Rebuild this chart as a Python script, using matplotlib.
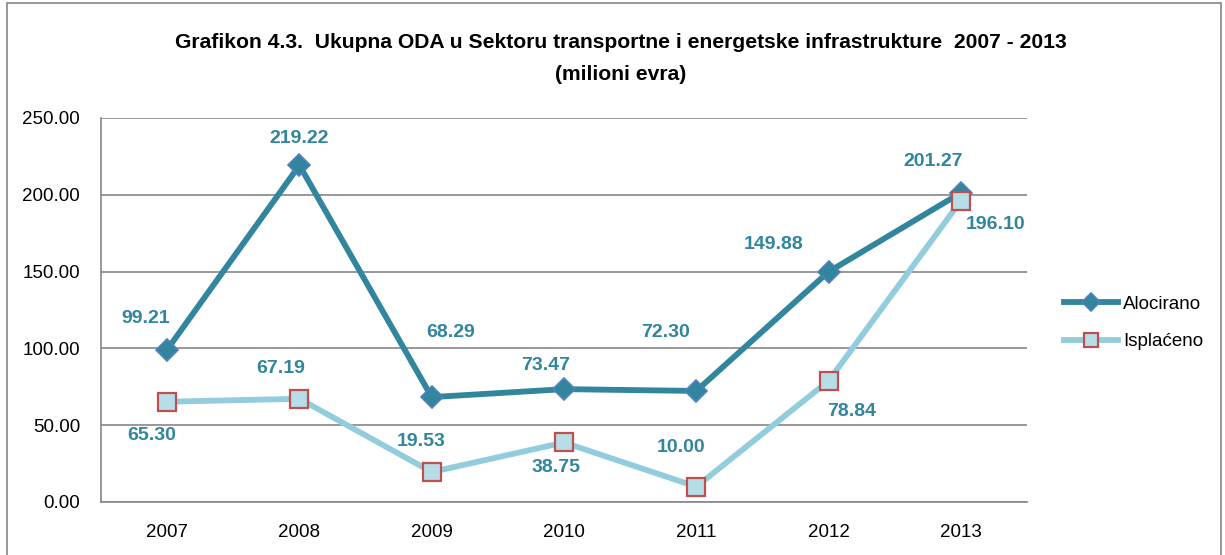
import matplotlib
matplotlib.use("Agg")
import matplotlib.pyplot as plt
from matplotlib.patches import Rectangle

# data
years = ["2007", "2008", "2009", "2010", "2011", "2012", "2013"]
alocirano = [99.21, 219.22, 68.29, 73.47, 72.30, 149.88, 201.27]
isplaceno = [65.30, 67.19, 19.53, 38.75, 10.00, 78.84, 196.10]

# label offsets in pixels (dx, dy), as placed in the original
aloc_off = [(-21, 31), (0, 27), (19, 65), (-18, 24), (-31, 58), (-55, 27), (-28, 31)]
isp_off = [(-15, -34), (-19, 30), (-11, 31), (-8, -25), (-15, 39), (23, -31), (35, -24)]

DARK = "#31859C"
LIGHT = "#93CDDD"

plt.rcParams["font.family"] = ["Liberation Sans", "DejaVu Sans"]

W, H = 1225, 555
fig = plt.figure(figsize=(W / 100, H / 100), dpi=100)
ax = fig.add_axes([101 / W, 1 - 502 / H, (1027 - 101) / W, (502 - 118) / H])

x = list(range(len(years)))
ax.plot(x, alocirano, color=DARK, lw=4.2, marker="D", ms=11.5,
        mfc=DARK, mec="#4F81BD", mew=1.2, label="Alocirano", zorder=4)
ax.plot(x, isplaceno, color=LIGHT, lw=4.2, marker="s", ms=13,
        mfc="#B7DEE8", mec="#C0504D", mew=1.6, label="Isplaćeno", zorder=5)

for xi, v, (dx, dy) in zip(x, alocirano, aloc_off):
    ax.annotate(f"{v:.2f}", (xi, v), xytext=(dx, dy), textcoords="offset pixels",
                ha="center", va="center", color=DARK, fontsize=14, fontweight="bold")
for xi, v, (dx, dy) in zip(x, isplaceno, isp_off):
    ax.annotate(f"{v:.2f}", (xi, v), xytext=(dx, dy), textcoords="offset pixels",
                ha="center", va="center", color=DARK, fontsize=14, fontweight="bold")

ax.set_xlim(-0.5, len(years) - 0.5)
ax.set_ylim(0, 250)
ax.set_xticks(x)
ax.set_xticklabels(years)
ax.set_yticks([0, 50, 100, 150, 200, 250])
ax.set_yticklabels([f"{t:.2f}" for t in [0, 50, 100, 150, 200, 250]])
ax.tick_params(axis="both", length=0, labelsize=13.5, colors="black")
ax.tick_params(axis="y", pad=15)
ax.tick_params(axis="x", pad=16)
ax.grid(axis="y", color="#868686", lw=1.2)
ax.set_axisbelow(True)
for s in ("top", "right"):
    ax.spines[s].set_visible(False)
for s in ("left", "bottom"):
    ax.spines[s].set_color("#868686")
    ax.spines[s].set_linewidth(1.2)

fig.text(621 / W, 1 - 43 / H,
         "Grafikon 4.3.  Ukupna ODA u Sektoru transportne i energetske infrastrukture  2007 - 2013",
         ha="center", va="center", fontsize=15.2, fontweight="bold")
fig.text(621 / W, 1 - 74 / H, "(milioni evra)",
         ha="center", va="center", fontsize=15.2, fontweight="bold")

ax.legend(loc="center left", bbox_to_anchor=(1064 / W, 1 - 323 / H),
          bbox_transform=fig.transFigure, frameon=False, fontsize=13.5,
          handlelength=2.9, handletextpad=0.25, labelspacing=1.1,
          borderpad=0, borderaxespad=0, markerscale=0.8)

# outer chart border
fig.patches.append(Rectangle((7 / W, -0.01), (1221 - 7) / W, 1.01 - 3 / H,
                             transform=fig.transFigure, fill=False,
                             edgecolor="#868686", lw=1.2))

fig.savefig("out.png", dpi=100)
